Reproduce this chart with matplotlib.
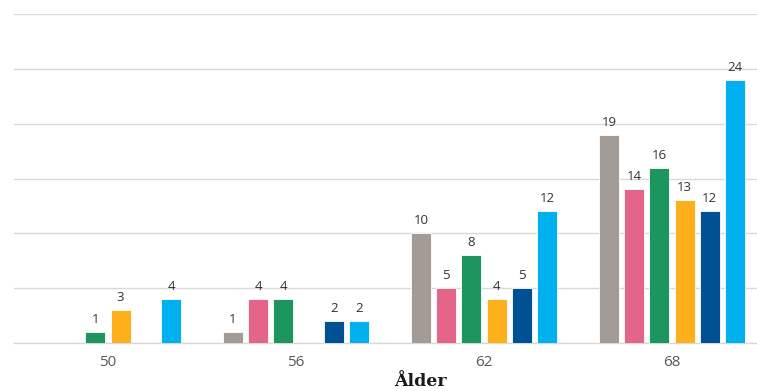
import numpy as np
import matplotlib
matplotlib.use("Agg")
import matplotlib.pyplot as plt

ages = ["50", "56", "62", "68"]
series_colors = ["#A39C96", "#E4648A", "#1C965E", "#FDAF1C", "#005193", "#00B0EF"]
grey_vals   = [0, 1, 10, 19]
pink_vals   = [0, 4, 5, 14]
green_vals  = [1, 4, 8, 16]
orange_vals = [3, 0, 4, 13]
navy_vals   = [0, 2, 5, 12]
sky_vals    = [4, 2, 12, 24]
all_series = [grey_vals, pink_vals, green_vals, orange_vals, navy_vals, sky_vals]

fig = plt.figure(figsize=(7.57, 3.91), dpi=100)
W, H = 757, 391
ax = fig.add_axes([14 / W, 48 / H, 752 / W, 329 / H])

x = np.arange(len(ages))
step = 0.134
width = 0.107
for i, (vals, col) in enumerate(zip(all_series, series_colors)):
    offs = x + (i - 2.5) * step
    for xi, v in zip(offs, vals):
        if v <= 0:
            continue
        ax.bar(xi, v, width=width, color=col, edgecolor="white", linewidth=0.6, zorder=3)
        ax.text(xi, v + 0.55, str(v), ha="center", va="bottom", fontsize=9.5,
                color="#333333", family="Open Sans")

ax.set_xlim(-0.5, 3.5)
ax.set_ylim(0, 30)
ax.set_yticks([0, 5, 10, 15, 20, 25, 30])
ax.yaxis.grid(True, color="#D9D9D9", linewidth=1.0, zorder=0)
ax.tick_params(axis="y", left=False, labelleft=False)
ax.tick_params(axis="x", length=0, pad=9, labelsize=11, labelcolor="#595959")
ax.set_xticks(x)
ax.set_xticklabels(ages, family="Open Sans")
for s in ["top", "right", "left"]:
    ax.spines[s].set_visible(False)
ax.spines["bottom"].set_color("#D9D9D9")
ax.spines["bottom"].set_linewidth(1.0)
ax.set_axisbelow(True)

fig.text(420 / W, 1 - 381 / H, "Ålder", ha="center", va="center",
         fontsize=12.5, fontweight="bold", family="DejaVu Serif", color="#1a1a1a")

fig.savefig("out.png", dpi=100)
